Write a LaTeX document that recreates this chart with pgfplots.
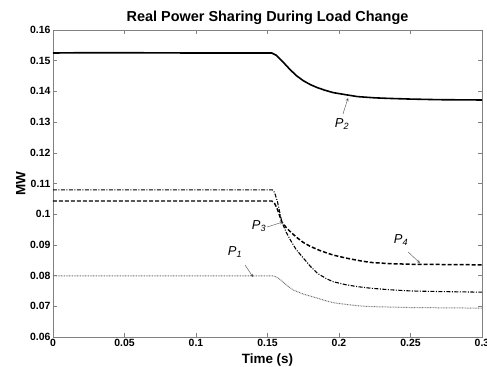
\documentclass[border=0pt]{standalone}
\usepackage{fontspec}
\setmainfont{Liberation Sans}
\usepackage{pgfplots}
\pgfplotsset{compat=1.18}
\begin{document}
\begin{tikzpicture}[x=1bp,y=1bp]
\useasboundingbox (-53bp,-30bp) rectangle (434bp,337bp);
\begin{axis}[
  scale only axis,
  width=429bp, height=307bp,
  xmin=0, xmax=0.3, ymin=0.06, ymax=0.16,
  xtick={0,0.05,0.1,0.15,0.2,0.25,0.3},
  ytick={0.06,0.07,0.08,0.09,0.1,0.11,0.12,0.13,0.14,0.15,0.16},
  /pgf/number format/assume math mode=true,
  /pgf/number format/fixed,
  /pgf/number format/precision=2,
  scaled ticks=false,
  tick align=inside,
  major tick length=4bp,
  axis line style={draw=black!50},
  every tick/.style={draw=black!50},
  tick label style={font=\fontsize{10.5}{12}\selectfont\bfseries, black},
  yticklabel style={xshift=1bp},
  xticklabel style={yshift=1bp},
  title={\fontsize{14.5}{16}\selectfont\bfseries Real Power Sharing During Load Change},
  title style={yshift=-4bp},
  xlabel={\fontsize{13.5}{15}\selectfont\bfseries Time (s)},
  ylabel={\fontsize{13.5}{15}\selectfont\bfseries MW},
  xlabel style={yshift=0bp},
  ylabel style={yshift=-2bp},
]
% P2
\addplot[black, line width=1.6pt] coordinates {
(0,0.1525) (0.02,0.1526) (0.05,0.1526) (0.1,0.1525) (0.153,0.1525) (0.156,0.1518) (0.16,0.1500) (0.165,0.1475) (0.17,0.1452) (0.175,0.1435) (0.18,0.1422) (0.185,0.1412) (0.19,0.1404) (0.196,0.1396) (0.205,0.1389) (0.213,0.1383) (0.225,0.1379) (0.236,0.1377) (0.25,0.1375) (0.27,0.1373) (0.3,0.1372)
};
% P4
\addplot[black, line width=1.5pt, dash pattern=on 4bp off 2bp] coordinates {
(0,0.1043) (0.153,0.1043) (0.155,0.1035) (0.157,0.1015) (0.160,0.0975) (0.163,0.0957) (0.166,0.0943) (0.170,0.0926) (0.175,0.0908) (0.18,0.0895) (0.187,0.0881) (0.1958,0.0867) (0.205,0.0857) (0.215,0.0848) (0.222,0.0843) (0.235,0.0839) (0.25,0.0837) (0.3,0.0835)
};
% P3
\addplot[black, line width=1.1pt, dash pattern=on 4bp off 1.5bp on 1bp off 1.5bp] coordinates {
(0,0.1079) (0.1535,0.1079) (0.155,0.1070) (0.157,0.1040) (0.160,0.0975) (0.163,0.0942) (0.166,0.0916) (0.170,0.0885) (0.1762,0.0851) (0.180,0.0830) (0.185,0.0807) (0.1916,0.0789) (0.196,0.0780) (0.205,0.0770) (0.213,0.0764) (0.222,0.0759) (0.235,0.0754) (0.25,0.0750) (0.27,0.0748) (0.3,0.0746)
};
% P1
\addplot[black!55, line width=1pt, dash pattern=on 0.8bp off 0.8bp] coordinates {
(0,0.0799) (0.154,0.0799) (0.156,0.0796) (0.159,0.0787) (0.163,0.0770) (0.168,0.0753) (0.175,0.0740) (0.18,0.0733) (0.1846,0.0727) (0.19,0.0719) (0.1958,0.0712) (0.205,0.0706) (0.215,0.0701) (0.222,0.0699) (0.25,0.0696) (0.3,0.0694)
};
% annotations
\node[font=\fontsize{13}{14}\selectfont\itshape] at (axis cs:0.2021,0.12938) {P\textsubscript{2}};
\draw[black!70, thin, -stealth] (axis cs:0.2028,0.13264) -- (axis cs:0.2063,0.13785);
\node[font=\fontsize{13}{14}\selectfont\itshape] at (axis cs:0.2434,0.0916) {P\textsubscript{4}};
\draw[black!70, thin, -stealth] (axis cs:0.2483,0.0877) -- (axis cs:0.2566,0.0841);
\node[font=\fontsize{13}{14}\selectfont\itshape] at (axis cs:0.1441,0.09616) {P\textsubscript{3}};
\draw[black!70, thin, -stealth] (axis cs:0.1497,0.09583) -- (axis cs:0.1608,0.09746);
\node[font=\fontsize{13}{14}\selectfont\itshape] at (axis cs:0.1273,0.08769) {P\textsubscript{1}};
\draw[black!70, thin, -stealth] (axis cs:0.1343,0.08345) -- (axis cs:0.1399,0.07954);
\end{axis}
\end{tikzpicture}
\end{document}
